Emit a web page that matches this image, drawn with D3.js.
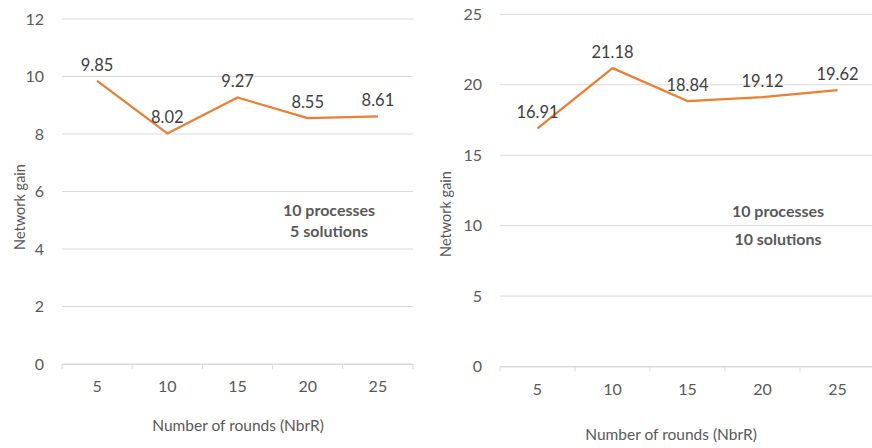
<!DOCTYPE html>
<html>
<head>
<meta charset="utf-8">
<script src="https://cdn.jsdelivr.net/npm/d3@7"></script>
<style>
  body { margin: 0; background: #fff; }
  svg text { font-family: Lato, "Open Sans", sans-serif; }
</style>
</head>
<body>
<div class="graph"></div>
<script>
// data
var rounds = ["5", "10", "15", "20", "25"];
var gain5 = [9.85, 8.02, 9.27, 8.55, 8.61];
var gain10 = [16.91, 21.18, 18.84, 19.12, 19.62];
var ticks5 = [0, 2, 4, 6, 8, 10, 12];
var ticks10 = [0, 5, 10, 15, 20, 25];
var note5 = ["10 processes", "5 solutions"];
var note10 = ["10 processes", "10 solutions"];

var svg = d3.select(".graph").append("svg")
    .attr("width", 872)
    .attr("height", 448);

function drawPanel(opt) {
    var g = svg.append("g");
    var x = d3.scaleBand().domain(rounds).range([opt.left, opt.right]);
    var y = d3.scaleLinear().domain([0, d3.max(opt.ticks)]).range([opt.bottom, opt.top]);

    // gridlines
    g.selectAll(".grid").data(opt.ticks).enter().append("line")
        .attr("x1", opt.left).attr("x2", opt.right)
        .attr("y1", (d) => y(d)).attr("y2", (d) => y(d))
        .attr("stroke", "#d9d9d9").attr("stroke-width", 1);

    // y labels
    g.selectAll(".yl").data(opt.ticks).enter().append("text")
        .attr("x", opt.ylabX).attr("y", (d) => y(d))
        .attr("dy", "0.35em")
        .attr("text-anchor", "end")
        .attr("font-size", 16).attr("fill", "#595959")
        .text((d) => d);

    // x axis
    var xa = g.append("g")
        .attr("transform", `translate(0, ${opt.bottom})`)
        .call(d3.axisBottom(x).tickSize(0).tickPadding(opt.xPad));
    xa.select(".domain").attr("stroke", "#d9d9d9");
    xa.selectAll("text").attr("font-size", 16).attr("fill", "#595959")
        .style("font-family", "Lato, 'Open Sans', sans-serif");
    // category separators
    var edges = rounds.map((r) => x(r)).concat([opt.right]);
    g.selectAll(".sep").data(edges).enter().append("line")
        .attr("x1", (d) => d).attr("x2", (d) => d)
        .attr("y1", opt.bottom).attr("y2", opt.bottom + 5)
        .attr("stroke", "#d9d9d9");

    // line
    var valueLine = d3.line()
        .x((d, i) => x(rounds[i]) + x.bandwidth() / 2)
        .y((d) => y(d));
    g.append("path")
        .datum(opt.values)
        .attr("fill", "none")
        .attr("stroke", "#ed7d31")
        .attr("stroke-width", 2.25)
        .attr("stroke-linejoin", "round")
        .attr("d", valueLine);

    // data labels
    g.selectAll(".dl").data(opt.values).enter().append("text")
        .attr("x", (d, i) => x(rounds[i]) + x.bandwidth() / 2)
        .attr("y", (d) => y(d) - 10)
        .attr("text-anchor", "middle")
        .attr("font-size", 16.5).attr("fill", "#404040")
        .text((d) => d.toFixed(2));

    // axis titles
    g.append("text")
        .attr("transform", `translate(${opt.yTitleX}, ${opt.yTitleY}) rotate(-90)`)
        .attr("text-anchor", "middle").attr("dy", "0.35em")
        .attr("font-size", 14.5).attr("fill", "#595959")
        .text("Network gain");
    g.append("text")
        .attr("x", opt.xTitleX).attr("y", opt.xTitleY)
        .attr("dy", "0.35em")
        .attr("text-anchor", "middle")
        .attr("font-size", 15.5).attr("fill", "#595959")
        .text("Number of rounds (NbrR)");

    // note
    g.selectAll(".note").data(opt.note).enter().append("text")
        .attr("x", opt.noteX)
        .attr("y", (d, i) => opt.noteY + i * opt.noteGap)
        .attr("dy", "0.35em")
        .attr("text-anchor", "middle")
        .attr("font-size", 16).attr("font-weight", "bold").attr("fill", "#595959")
        .text((d) => d);
}

drawPanel({
    values: gain5, ticks: ticks5, note: note5,
    left: 62, right: 413, top: 19, bottom: 364,
    ylabX: 44, xPad: 17,
    yTitleX: 20, yTitleY: 207,
    xTitleX: 238, xTitleY: 426,
    noteX: 329, noteY: 210, noteGap: 21
});

drawPanel({
    values: gain10, ticks: ticks10, note: note10,
    left: 500, right: 875, top: 14.3, bottom: 366.5,
    ylabX: 482, xPad: 17,
    yTitleX: 446, yTitleY: 214,
    xTitleX: 671, xTitleY: 435,
    noteX: 778, noteY: 211, noteGap: 28
});
</script>
</body>
</html>
